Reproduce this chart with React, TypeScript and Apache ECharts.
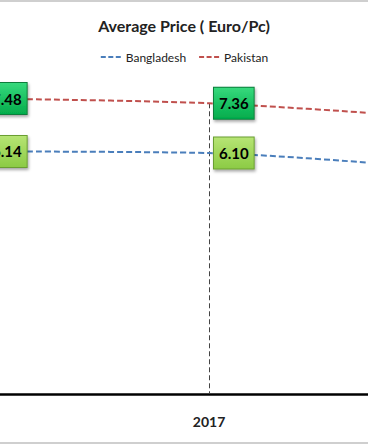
import React, { useEffect, useRef } from "react";
import * as echarts from "echarts";

const categories = ["2016", "2017", "2018"];
const bangladesh = [6.14, 6.1, 5.72];
const pakistan = [7.48, 7.36, 7.0];
const titleText = "Average Price ( Euro/Pc)";

const FONT = "Lato, 'Open Sans', sans-serif";

function boxLabel(top: string, bottom: string, border: string) {
  return {
    show: true,
    position: "right" as const,
    distance: 5,
    fontFamily: FONT,
    fontWeight: "bold" as const,
    fontSize: 15,
    color: "#000",
    lineHeight: 16,
    padding: [8, 5, 7, 5],
    backgroundColor: new echarts.graphic.LinearGradient(0, 0, 0, 1, [
      { offset: 0, color: top },
      { offset: 1, color: bottom },
    ]),
    borderColor: border,
    borderWidth: 1,
    shadowColor: "rgba(0,0,0,0.35)",
    shadowBlur: 3,
    shadowOffsetX: 1,
    shadowOffsetY: 2,
    formatter: (p: any) => Number(p.value).toFixed(2),
  };
}

export default function App() {
  const ref = useRef<HTMLDivElement>(null);
  useEffect(() => {
    if (!ref.current) return;
    const chart = echarts.init(ref.current, undefined, { renderer: "svg" });
    chart.setOption({
      animation: false,
      backgroundColor: "#fff",
      title: {
        text: titleText,
        left: "center",
        top: 12,
        textStyle: { fontFamily: FONT, fontWeight: "bold", fontSize: 16, color: "#222" },
      },
      legend: {
        top: 46,
        left: "center",
        itemWidth: 20,
        itemHeight: 10,
        itemGap: 12,
        itemStyle: { opacity: 0 },
        lineStyle: { width: 2, type: [5, 2.5] },
        textStyle: { fontFamily: FONT, fontSize: 12, color: "#222" },
        data: ["Bangladesh", "Pakistan"],
      },
      grid: { left: 68.5, right: 18.5, top: 78, bottom: 51 },
      xAxis: {
        type: "category",
        data: categories,
        boundaryGap: true,
        axisLine: { lineStyle: { color: "#000", width: 2.5 } },
        axisTick: { show: false },
        axisLabel: { fontFamily: FONT, fontWeight: "bold", fontSize: 14, color: "#222", margin: 20 },
        splitLine: { show: false },
      },
      yAxis: {
        type: "value",
        min: 0,
        max: 8,
        show: false,
        splitLine: { show: false },
      },
      series: [
        {
          name: "Bangladesh",
          type: "line",
          data: bangladesh,
          smooth: 0.3,
          symbol: "circle",
          symbolSize: 0,
          showSymbol: true,
          color: "#4a7ebb",
          lineStyle: { color: "#4a7ebb", width: 2, type: [6, 3] },
          label: boxLabel("#b6e474", "#8ccb45", "#6a9e30"),
          z: 3,
        },
        {
          name: "Pakistan",
          type: "line",
          data: pakistan,
          smooth: 0.3,
          symbol: "circle",
          symbolSize: 0,
          showSymbol: true,
          color: "#c0504d",
          lineStyle: { color: "#c0504d", width: 2, type: [6, 3] },
          label: boxLabel("#36d97c", "#04ac4c", "#0b7d3a"),
          z: 3,
          markLine: {
            silent: true,
            symbol: "none",
            label: { show: false },
            lineStyle: { color: "#444", width: 1, type: [5, 3] },
            data: categories.map((c, i) => [
              { coord: [c, pakistan[i]] },
              { coord: [c, 0] },
            ]),
            z: 1,
          },
        },
      ],
    });
    return () => chart.dispose();
  }, []);

  return (
    <div
      style={{
        position: "fixed",
        left: 0,
        top: 0,
        width: 368,
        height: 445,
        overflow: "hidden",
        background: "#fff",
      }}
    >
      <div
        ref={ref}
        style={{ position: "absolute", left: -200, top: 0, width: 768, height: 445 }}
      />
      <div style={{ position: "absolute", left: 0, top: 0, width: 368, height: 2, background: "#cfcfcf" }} />
      <div style={{ position: "absolute", left: 0, top: 442, width: 368, height: 2, background: "#cfcfcf" }} />
    </div>
  );
}
